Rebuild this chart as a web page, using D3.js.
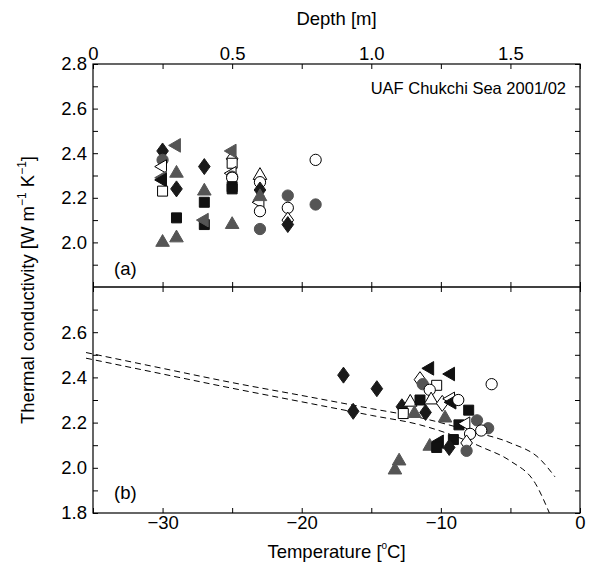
<!DOCTYPE html>
<html>
<head>
<meta charset="utf-8">
<script src="https://cdn.jsdelivr.net/npm/d3@7"></script>
<style>
  body { margin: 0; background: #fff; }
  text { font-family: "Liberation Sans", Arial, sans-serif; }
</style>
</head>
<body>
<svg id="chart" width="589" height="564"></svg>
<script>
// tick values and labels
const kTicksTop = d3.range(19, 29).map(d => d / 10);
const kLabelsTop = [2.0, 2.2, 2.4, 2.6, 2.8];
const kTicksBot = d3.range(18, 28).map(d => d / 10);
const kLabelsBot = [1.8, 2.0, 2.2, 2.4, 2.6];
const depthTicks = [0, 0.25, 0.5, 0.75, 1.0, 1.25, 1.5, 1.75];
const depthLabels = [0, 0.5, 1.0, 1.5];
const tempTicks = [-35, -30, -25, -20, -15, -10, -5, 0];
const tempLabels = [-30, -20, -10, 0];

// (a) conductivity vs depth: [depth m, k, marker]
const depthPoints = [
  [0.25, 2.41, "dk"], [0.25, 2.37, "gc"], [0.30, 2.435, "gl"], [0.25, 2.34, "ol"],
  [0.30, 2.31, "gt"], [0.25, 2.29, "gl"], [0.25, 2.28, "bl"], [0.25, 2.23, "os"],
  [0.30, 2.24, "dk"], [0.30, 2.11, "bs"], [0.30, 2.02, "gt"], [0.25, 2.00, "gt"],
  [0.40, 2.34, "dk"], [0.40, 2.23, "gt"], [0.40, 2.18, "bs"], [0.40, 2.08, "bs"],
  [0.40, 2.10, "gl"], [0.50, 2.08, "gt"], [0.50, 2.375, "od"], [0.50, 2.41, "gl"],
  [0.50, 2.355, "os"], [0.50, 2.31, "ol"], [0.50, 2.295, "gc"], [0.50, 2.29, "oc"],
  [0.50, 2.25, "bs"], [0.50, 2.24, "bs"],
  [0.60, 2.30, "ot"], [0.60, 2.27, "oc"], [0.60, 2.235, "dk"], [0.60, 2.18, "ol"],
  [0.60, 2.205, "gt"], [0.60, 2.14, "oc"], [0.60, 2.06, "gc"],
  [0.70, 2.21, "gc"], [0.70, 2.155, "oc"], [0.70, 2.10, "od"], [0.70, 2.08, "dk"],
  [0.80, 2.37, "oc"], [0.80, 2.17, "gc"]
];

// (b) conductivity vs temperature: [T degC, k, marker]
const tempPoints = [
  [-17.0, 2.41, "dk"], [-14.6, 2.35, "dk"], [-16.3, 2.25, "dk"], [-12.8, 2.27, "dk"],
  [-12.7, 2.24, "os"], [-13.0, 2.03, "gt"], [-13.3, 1.99, "gt"], [-12.2, 2.29, "ot"],
  [-11.9, 2.24, "gt"], [-10.8, 2.44, "bl"], [-9.3, 2.415, "bl"], [-6.35, 2.37, "oc"],
  [-11.5, 2.39, "od"], [-11.3, 2.37, "gc"], [-10.3, 2.365, "os"], [-10.8, 2.345, "oc"],
  [-11.5, 2.30, "bs"], [-10.7, 2.30, "ot"], [-9.9, 2.285, "od"], [-9.3, 2.305, "ol"],
  [-9.2, 2.29, "bl"], [-8.75, 2.30, "oc"], [-11.1, 2.245, "dk"], [-9.7, 2.22, "gt"],
  [-8.0, 2.255, "bs"], [-8.7, 2.19, "bs"], [-8.2, 2.195, "ol"], [-7.4, 2.21, "gc"],
  [-6.6, 2.175, "gc"], [-7.1, 2.165, "oc"], [-7.9, 2.15, "oc"], [-9.1, 2.125, "bs"],
  [-10.1, 2.115, "bl"], [-10.8, 2.095, "gt"], [-10.3, 2.09, "bs"], [-9.4, 2.09, "dk"],
  [-8.15, 2.11, "od"], [-8.15, 2.075, "gc"]
];

// dashed model curves
const curveUpper = [
  [-35.5, 2.51], [-30, 2.44], [-25, 2.377], [-20, 2.32], [-15, 2.262],
  [-11.5, 2.222], [-7.7, 2.16], [-5, 2.11], [-2.9, 2.04], [-1.8, 1.96]
];
const curveLower = [
  [-35.5, 2.485], [-30, 2.415], [-25, 2.352], [-20, 2.292], [-15, 2.232],
  [-11.5, 2.19], [-7, 2.09], [-5, 2.03], [-3.2, 1.93], [-2.2, 1.80]
];

const left = 93, right = 580, topY = 64, midY = 287, botY = 513;

const svg = d3.select("#chart");

const xDepth = d3.scaleLinear().domain([0, 1.75]).range([left, right]);
const xTemp = d3.scaleLinear().domain([-35, 0]).range([left, right]);
const yTop = d3.scaleLinear().domain([1.8, 2.8]).range([midY, topY]);
const yBot = d3.scaleLinear().domain([1.8, 2.8]).range([botY, midY]);

const fmtK = labels => d => labels.some(v => Math.abs(v - d) < 1e-6) ? d.toFixed(1) : "";
const fmtDepth = d => depthLabels.includes(d) ? (d === 0 ? "0" : d.toFixed(1)) : "";
const fmtTemp = d => tempLabels.includes(d) ? (d < 0 ? "\u2212" + Math.abs(d) : "0") : "";

function styleAxis(g, size) {
  g.select(".domain").remove();
  g.selectAll(".tick line").attr("stroke", "#000").attr("stroke-width", 1);
  g.selectAll(".tick text").attr("font-size", size).attr("fill", "#000")
    .style("font-family", "'Liberation Sans', Arial, sans-serif");
}

// left axes
svg.append("g").attr("transform", "translate(" + left + ",0)")
  .call(d3.axisLeft(yTop).tickValues(kTicksTop).tickSize(-5).tickPadding(6).tickFormat(fmtK(kLabelsTop)))
  .call(styleAxis, 18.5);
svg.append("g").attr("transform", "translate(" + left + ",0)")
  .call(d3.axisLeft(yBot).tickValues(kTicksBot).tickSize(-5).tickPadding(6).tickFormat(fmtK(kLabelsBot)))
  .call(styleAxis, 18.5);
// right ticks
svg.append("g").attr("transform", "translate(" + right + ",0)")
  .call(d3.axisRight(yTop).tickValues(kTicksTop).tickSize(-5).tickFormat(""))
  .call(styleAxis, 18);
svg.append("g").attr("transform", "translate(" + right + ",0)")
  .call(d3.axisRight(yBot).tickValues(kTicksBot).tickSize(-5).tickFormat(""))
  .call(styleAxis, 18);
// top depth axis
svg.append("g").attr("transform", "translate(0," + topY + ")")
  .call(d3.axisTop(xDepth).tickValues(depthTicks).tickSize(-5).tickPadding(4).tickFormat(fmtDepth))
  .call(styleAxis, 18.5);
// ticks on the shared middle line
svg.append("g").attr("transform", "translate(0," + midY + ")")
  .call(d3.axisBottom(xDepth).tickValues(depthTicks).tickSize(-5).tickFormat(""))
  .call(styleAxis, 18);
svg.append("g").attr("transform", "translate(0," + midY + ")")
  .call(d3.axisTop(xTemp).tickValues(tempTicks).tickSize(-5).tickFormat(""))
  .call(styleAxis, 18);
// bottom temperature axis
svg.append("g").attr("transform", "translate(0," + botY + ")")
  .call(d3.axisBottom(xTemp).tickValues(tempTicks).tickSize(-5).tickPadding(3).tickFormat(fmtTemp))
  .call(styleAxis, 18.5);

// frames
svg.append("rect").attr("x", left).attr("y", topY).attr("width", right - left).attr("height", botY - topY)
  .attr("fill", "none").attr("stroke", "#000").attr("stroke-width", 1.2);
svg.append("line").attr("x1", left).attr("x2", right).attr("y1", midY).attr("y2", midY)
  .attr("stroke", "#000").attr("stroke-width", 1.6);

// dashed curves
const lineT = d3.line().x(d => xTemp(d[0])).y(d => yBot(d[1])).curve(d3.curveMonotoneX);
[curveUpper, curveLower].forEach(c => {
  svg.append("path").datum(c).attr("d", lineT)
    .attr("fill", "none").attr("stroke", "#000").attr("stroke-width", 1)
    .attr("stroke-dasharray", "6,4");
});

// markers
const markStyle = {
  dk: { shape: "diamond", fill: "#1a1a1a" },
  od: { shape: "diamond", fill: "#fff" },
  gc: { shape: "circle", fill: "#555" },
  oc: { shape: "circle", fill: "#fff" },
  bs: { shape: "square", fill: "#111" },
  os: { shape: "square", fill: "#fff" },
  gt: { shape: "up", fill: "#555" },
  ot: { shape: "up", fill: "#fff" },
  bl: { shape: "left", fill: "#111" },
  gl: { shape: "left", fill: "#555" },
  ol: { shape: "left", fill: "#fff" }
};
const shapePath = {
  diamond: "M0,-8L5.8,0L0,8L-5.8,0Z",
  circle: d3.symbol(d3.symbolCircle, 100)(),
  square: d3.symbol(d3.symbolSquare, 100)(),
  up: d3.symbol(d3.symbolTriangle, 80)(),
  left: d3.symbol(d3.symbolTriangle, 80)()
};

function drawMarks(data, x, y) {
  svg.append("g").selectAll("path").data(data).join("path")
    .attr("transform", d => "translate(" + x(d[0]) + "," + y(d[1]) + ")" +
      (markStyle[d[2]].shape === "left" ? " rotate(-90)" : ""))
    .attr("d", d => shapePath[markStyle[d[2]].shape])
    .attr("fill", d => markStyle[d[2]].fill)
    .attr("stroke", d => markStyle[d[2]].fill === "#fff" ? "#000" : markStyle[d[2]].fill)
    .attr("stroke-width", 1);
}
drawMarks(depthPoints, xDepth, yTop);
drawMarks(tempPoints, xTemp, yBot);

// texts
svg.append("text").attr("x", 566).attr("y", 94).attr("text-anchor", "end")
  .attr("font-size", 16.5).text("UAF Chukchi Sea 2001/02");
svg.append("text").attr("x", 114).attr("y", 275).attr("font-size", 18.5).text("(a)");
svg.append("text").attr("x", 114).attr("y", 499).attr("font-size", 18.5).text("(b)");

svg.append("text").attr("x", (left + right) / 2).attr("y", 25).attr("text-anchor", "middle")
  .attr("font-size", 18.5).text("Depth [m]");

const tt = svg.append("text").attr("x", (left + right) / 2).attr("y", 558).attr("text-anchor", "middle")
  .attr("font-size", 18.5);
tt.append("tspan").text("Temperature [");
tt.append("tspan").attr("font-size", 10).attr("dy", -9).text("o");
tt.append("tspan").attr("dy", 9).text("C]");

const yl = svg.append("text").attr("transform", "translate(34,290) rotate(-90)")
  .attr("text-anchor", "middle").attr("font-size", 18.5);
yl.append("tspan").text("Thermal conductivity [W m");
yl.append("tspan").attr("font-size", 12).attr("dy", -8).text("\u22121");
yl.append("tspan").attr("dy", 8).text(" K");
yl.append("tspan").attr("font-size", 12).attr("dy", -8).text("\u22121");
yl.append("tspan").attr("dy", 8).text("]");
</script>
</body>
</html>
